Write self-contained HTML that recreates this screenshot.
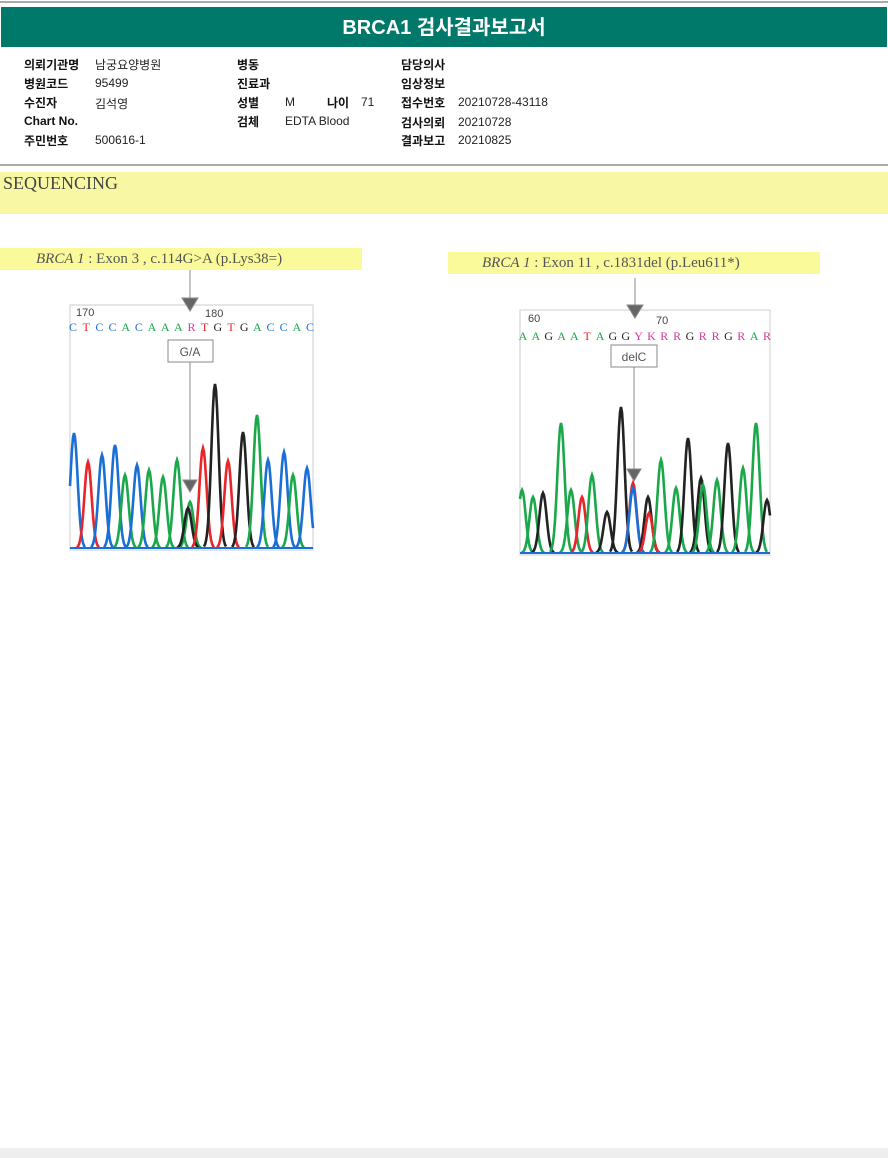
<!DOCTYPE html>
<html><head><meta charset="utf-8">
<style>
body{margin:0;width:888px;height:1158px;background:#fff;position:relative;overflow:hidden;font-family:"Liberation Sans","Noto Sans CJK KR",sans-serif}
.a{position:absolute;white-space:nowrap}
.lb{font-weight:bold;font-size:12px;color:#111}
.v{font-size:12px;color:#222}
.ser{font-family:"Liberation Serif","Noto Serif CJK SC",serif}
</style></head><body>
<div class="a" style="left:0;top:1px;width:888px;height:2px;background:#aaa"></div>
<div class="a" style="left:1px;top:7px;width:886px;height:40px;background:#00796b;color:#fff;font-weight:bold;font-size:20px;line-height:42px;text-align:center">BRCA1 검사결과보고서</div>

<div>
<div class="a lb" style="left:24px;top:56px">의뢰기관명</div><div class="a v" style="left:95px;top:56px">남궁요양병원</div>
<div class="a lb" style="left:24px;top:75px">병원코드</div><div class="a v" style="left:95px;top:76px">95499</div>
<div class="a lb" style="left:24px;top:94px">수진자</div><div class="a v" style="left:95px;top:95px">김석영</div>
<div class="a lb" style="left:24px;top:114px">Chart No.</div>
<div class="a lb" style="left:24px;top:132px">주민번호</div><div class="a v" style="left:95px;top:133px">500616-1</div>
<div class="a lb" style="left:237px;top:56px">병동</div>
<div class="a lb" style="left:237px;top:75px">진료과</div>
<div class="a lb" style="left:237px;top:94px">성별</div><div class="a v" style="left:285px;top:95px">M</div>
<div class="a lb" style="left:327px;top:94px">나이</div><div class="a v" style="left:361px;top:95px">71</div>
<div class="a lb" style="left:237px;top:113px">검체</div><div class="a v" style="left:285px;top:114px">EDTA Blood</div>
<div class="a lb" style="left:401px;top:56px">담당의사</div>
<div class="a lb" style="left:401px;top:75px">임상정보</div>
<div class="a lb" style="left:401px;top:94px">접수번호</div><div class="a v" style="left:458px;top:95px">20210728-43118</div>
<div class="a lb" style="left:401px;top:114px">검사의뢰</div><div class="a v" style="left:458px;top:115px">20210728</div>
<div class="a lb" style="left:401px;top:132px">결과보고</div><div class="a v" style="left:458px;top:133px">20210825</div>
</div>
<div class="a" style="left:0;top:164px;width:888px;height:2px;background:#aaa"></div>
<div class="a ser" style="left:0;top:172px;width:888px;height:42px;background:#f8f8a4;font-size:18px;color:#444;padding-left:3px;line-height:22px;box-sizing:border-box">SEQUENCING</div>

<div class="a ser" style="left:0;top:248px;width:362px;height:22px;background:#fafa9a;font-size:15px;color:#555;line-height:22px;padding-left:36px;box-sizing:border-box"><i>BRCA 1</i> : Exon 3 , c.114G&gt;A (p.Lys38=)</div>
<div class="a ser" style="left:448px;top:252px;width:372px;height:22px;background:#fafa9a;font-size:15px;color:#555;line-height:22px;padding-left:34px;box-sizing:border-box"><i>BRCA 1</i> : Exon 11 , c.1831del (p.Leu611*)</div>

<svg class="a" style="left:0;top:0" width="888" height="1158" id="sv">
<rect x="70" y="305" width="243" height="245" fill="none" stroke="#ccc"/>
<rect x="520" y="310" width="250" height="245" fill="none" stroke="#ccc"/>
<g id="c1"></g><g id="c2"></g>
<g font-family="Liberation Sans,sans-serif" fill="#444" font-size="11">
<text x="76" y="316">170</text>
<text x="205" y="317">180</text>
<text x="528" y="322">60</text>
<text x="656" y="324">70</text>
</g>
<g stroke="#888" fill="#666">
<line x1="190" y1="270" x2="190" y2="300"/><polygon points="182,298 198,298 190,311"/>
<line x1="190" y1="362" x2="190" y2="482"/><polygon points="183,480 197,480 190,492"/>
<line x1="635" y1="278" x2="635" y2="307"/><polygon points="627,305 643,305 635,318"/>
<line x1="634" y1="367" x2="634" y2="471"/><polygon points="627,469 641,469 634,481"/>
</g>
<rect x="168" y="340" width="45" height="22" fill="#fff" stroke="#888"/>
<text x="190" y="356" text-anchor="middle" font-family="Liberation Sans,sans-serif" font-size="12" fill="#555">G/A</text>
<rect x="611" y="345" width="46" height="22" fill="#fff" stroke="#888"/>
<text x="634" y="361" text-anchor="middle" font-family="Liberation Sans,sans-serif" font-size="12" fill="#555">delC</text>
</svg>
<div class="a" style="left:0;top:1148px;width:888px;height:10px;background:#eee"></div>

<script>
const COL={A:"#1aa84a",C:"#1a6fd6",G:"#222",T:"#e8262a",R:"#d63a9a",Y:"#d63a9a",K:"#d63a9a"};
const PK={g:"#1aa84a",b:"#1a6fd6",k:"#222",r:"#e8262a"};
// chart 1 data
const seq1="CTCCACAAARTGTGACCAC";
const peakPos1=[74,88,102,115,125,137,149,163,177,190,188,203,215,228,243,257,268,284,293,307];
const peakHeight1=[115,86,93,103,73,83,78,71,88,46,40,100,164,87,116,133,88,96,73,80];
const peakColor1=["b","r","b","b","g","b","g","g","g","g","k","r","k","r","k","g","b","b","g","b"];
// chart 2 data
const seq2="AAGAATAGGYKRRGRRGRAR";
const peakPos2=[522,533,543,561,571,582,592,607,621,633,633,648,649,661,676,688,701,703,717,728,743,756,767];
const peakHeight2=[63,56,60,130,63,56,78,41,146,70,65,56,40,93,65,115,75,68,73,110,85,130,53];
const peakColor2=["g","g","k","g","g","r","g","k","k","r","b","k","r","g","g","k","k","g","g","k","g","g","k"];
const NS="http://www.w3.org/2000/svg";
function yScale(base,h){return base-h;}
function draw(gid,x0,x1,base,pos,hs,cols,seq,seqY,sx0,sx1){
  const g=document.getElementById(gid);
  pos.forEach((p,i)=>{
    const h=hs[i];let d="";
    for(let x=p-11;x<=p+11;x+=1){if(x<x0||x>x1)continue;const y=yScale(base,h*Math.exp(-((x-p)**2)/(2*3.6*3.6)));d+=(d?"L":"M")+x+","+y.toFixed(1);}
    const el=document.createElementNS(NS,"path");
    el.setAttribute("d",d);el.setAttribute("fill","none");el.setAttribute("stroke",PK[cols[i]]);el.setAttribute("stroke-width","2.6");
    
    
    g.appendChild(el);
  });
  const bl=document.createElementNS(NS,"line");
  bl.setAttribute("x1",x0);bl.setAttribute("x2",x1);bl.setAttribute("y1",base);bl.setAttribute("y2",base);bl.setAttribute("stroke","#1a6fd6");bl.setAttribute("stroke-width","2");
  
  
  g.appendChild(bl);
  const step=(sx1-sx0)/(seq.length-1);
  [...seq].forEach((c,i)=>{
    const t=document.createElementNS(NS,"text");
    t.setAttribute("x",sx0+i*step);t.setAttribute("y",seqY);t.setAttribute("text-anchor","middle");
    t.setAttribute("font-family","Liberation Serif,serif");t.setAttribute("font-size","12");t.setAttribute("fill",COL[c]);
    t.textContent=c;
    
    
    g.appendChild(t);
  });
}
draw("c1",70,313,548,peakPos1,peakHeight1,peakColor1,seq1,331,73,310);
draw("c2",520,770,553,peakPos2,peakHeight2,peakColor2,seq2,340,523,767);
</script>
</body></html>
